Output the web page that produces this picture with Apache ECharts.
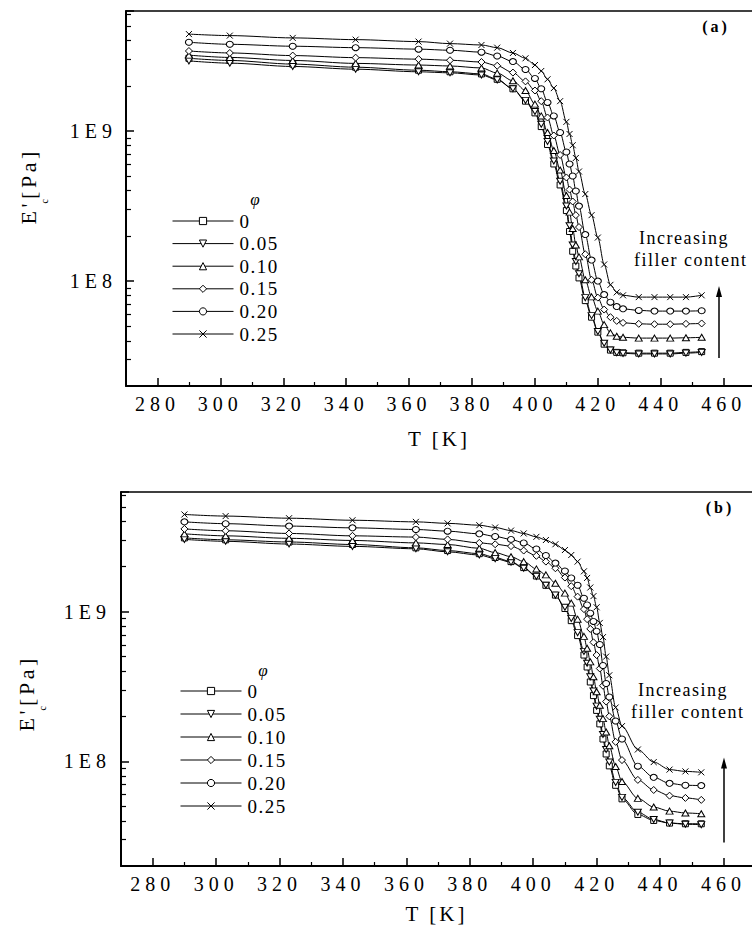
<!DOCTYPE html>
<html>
<head>
<meta charset="utf-8">
<script src="https://cdn.jsdelivr.net/npm/echarts@6/dist/echarts.min.js"></script>
<style>
html, body { margin: 0; padding: 0; background: #fff; }
#chart { width: 752px; height: 936px; }
text[style*="20px"] { letter-spacing: 5px; }
text[style*="21px"] { letter-spacing: 3px; }
text[style*="22px"] { letter-spacing: 3.5px; }
text[style*="19px"] { letter-spacing: 1.5px; }
text[style*="18px"] { letter-spacing: 1.5px; }
text[style*="16px"] { letter-spacing: 3px; }
</style>
</head>
<body>
<div id="chart"></div>
<script>
// ---------------- data ----------------
const phiLabels = ['0', '0.05', '0.10', '0.15', '0.20', '0.25'];

// panel (a): temperature [K]
const tempA = [290, 303, 323, 343, 363, 373, 383, 388, 393, 397, 400, 402, 404, 406, 408, 410, 411, 412, 413, 414, 416, 418, 420, 422, 424, 426, 428, 433, 438, 443, 448, 453];
// panel (a): E'c [Pa]
const A_000 = [3.05e9, 2.95e9, 2.79e9, 2.66e9, 2.54e9, 2.48e9, 2.40e9, 2.21e9, 1.91e9, 1.58e9, 1.32e9, 1.07e9, 8.13e8, 6.03e8, 4.37e8, 2.95e8, 2.14e8, 1.58e8, 1.26e8, 1.05e8, 7.41e7, 5.75e7, 4.57e7, 3.80e7, 3.47e7, 3.35e7, 3.33e7, 3.31e7, 3.31e7, 3.31e7, 3.35e7, 3.39e7];
const A_005 = [2.93e9, 2.83e9, 2.69e9, 2.58e9, 2.48e9, 2.44e9, 2.36e9, 2.19e9, 1.91e9, 1.60e9, 1.35e9, 1.11e9, 8.51e8, 6.31e8, 4.62e8, 3.16e8, 2.34e8, 1.74e8, 1.35e8, 1.12e8, 7.76e7, 5.89e7, 4.62e7, 3.85e7, 3.47e7, 3.33e7, 3.30e7, 3.27e7, 3.27e7, 3.27e7, 3.31e7, 3.35e7];
const A_010 = [3.20e9, 3.09e9, 2.95e9, 2.82e9, 2.75e9, 2.71e9, 2.63e9, 2.43e9, 2.16e9, 1.86e9, 1.51e9, 1.26e9, 9.77e8, 7.41e8, 5.50e8, 3.72e8, 2.88e8, 2.24e8, 1.74e8, 1.45e8, 1.02e8, 7.85e7, 6.31e7, 5.13e7, 4.52e7, 4.29e7, 4.22e7, 4.17e7, 4.17e7, 4.17e7, 4.19e7, 4.22e7];
const A_015 = [3.41e9, 3.31e9, 3.18e9, 3.08e9, 3.01e9, 2.96e9, 2.88e9, 2.72e9, 2.45e9, 2.14e9, 1.86e9, 1.58e9, 1.23e9, 9.33e8, 6.92e8, 4.90e8, 4.07e8, 3.39e8, 2.75e8, 2.29e8, 1.51e8, 1.02e8, 7.76e7, 6.46e7, 5.75e7, 5.43e7, 5.27e7, 5.19e7, 5.16e7, 5.16e7, 5.19e7, 5.22e7];
const A_020 = [3.90e9, 3.78e9, 3.67e9, 3.59e9, 3.51e9, 3.45e9, 3.35e9, 3.16e9, 2.90e9, 2.57e9, 2.24e9, 1.91e9, 1.55e9, 1.26e9, 9.77e8, 7.24e8, 6.03e8, 5.01e8, 3.98e8, 3.16e8, 2.04e8, 1.38e8, 1.00e8, 8.13e7, 7.24e7, 6.76e7, 6.53e7, 6.38e7, 6.31e7, 6.31e7, 6.31e7, 6.34e7];
const A_025 = [4.42e9, 4.32e9, 4.17e9, 4.06e9, 3.94e9, 3.82e9, 3.74e9, 3.59e9, 3.31e9, 3.05e9, 2.75e9, 2.51e9, 2.21e9, 1.93e9, 1.58e9, 1.15e9, 9.55e8, 8.04e8, 6.61e8, 5.37e8, 3.80e8, 2.75e8, 1.95e8, 1.29e8, 9.44e7, 8.41e7, 8.04e7, 7.82e7, 7.82e7, 7.82e7, 7.82e7, 8.04e7];

// panel (b): temperature [K]
const tempB = [290, 303, 323, 343, 363, 373, 383, 388, 393, 397, 401, 404, 407, 410, 412, 414, 416, 417, 418, 419, 420, 421, 422, 423, 424, 426, 428, 433, 438, 443, 448, 453];
// panel (b): E'c [Pa]
const B_000 = [3.11e9, 3.02e9, 2.92e9, 2.81e9, 2.67e9, 2.56e9, 2.44e9, 2.30e9, 2.16e9, 1.97e9, 1.73e9, 1.50e9, 1.29e9, 1.05e9, 8.71e8, 6.92e8, 5.13e8, 4.27e8, 3.39e8, 2.75e8, 2.19e8, 1.78e8, 1.41e8, 1.12e8, 9.33e7, 6.92e7, 5.62e7, 4.42e7, 4.03e7, 3.87e7, 3.83e7, 3.83e7];
const B_005 = [3.04e9, 2.95e9, 2.83e9, 2.73e9, 2.63e9, 2.51e9, 2.39e9, 2.26e9, 2.14e9, 1.95e9, 1.72e9, 1.50e9, 1.29e9, 1.07e9, 9.02e8, 7.24e8, 5.43e8, 4.52e8, 3.67e8, 2.95e8, 2.34e8, 1.91e8, 1.51e8, 1.20e8, 9.89e7, 7.24e7, 5.75e7, 4.57e7, 4.09e7, 3.87e7, 3.80e7, 3.78e7];
const B_010 = [3.31e9, 3.21e9, 3.09e9, 2.99e9, 2.88e9, 2.81e9, 2.65e9, 2.48e9, 2.33e9, 2.16e9, 1.93e9, 1.76e9, 1.55e9, 1.33e9, 1.14e9, 8.91e8, 6.84e8, 5.69e8, 4.62e8, 3.67e8, 2.92e8, 2.37e8, 1.93e8, 1.57e8, 1.27e8, 9.23e7, 7.33e7, 5.66e7, 4.95e7, 4.65e7, 4.52e7, 4.47e7];
const B_015 = [3.57e9, 3.47e9, 3.33e9, 3.21e9, 3.15e9, 3.04e9, 2.88e9, 2.82e9, 2.74e9, 2.56e9, 2.36e9, 2.16e9, 1.95e9, 1.69e9, 1.48e9, 1.26e9, 1.04e9, 8.91e8, 7.67e8, 6.24e8, 5.13e8, 4.17e8, 3.20e8, 2.51e8, 2.00e8, 1.35e8, 1.02e8, 7.52e7, 6.44e7, 5.90e7, 5.70e7, 5.53e7];
const B_020 = [3.98e9, 3.87e9, 3.73e9, 3.63e9, 3.54e9, 3.45e9, 3.31e9, 3.18e9, 3.04e9, 2.88e9, 2.62e9, 2.37e9, 2.11e9, 1.87e9, 1.68e9, 1.50e9, 1.23e9, 1.11e9, 9.77e8, 8.61e8, 7.41e8, 6.03e8, 4.37e8, 3.31e8, 2.69e8, 1.86e8, 1.41e8, 9.29e7, 7.82e7, 7.13e7, 6.92e7, 6.89e7];
const B_025 = [4.46e9, 4.35e9, 4.21e9, 4.08e9, 3.98e9, 3.89e9, 3.78e9, 3.65e9, 3.48e9, 3.33e9, 3.16e9, 3.01e9, 2.82e9, 2.58e9, 2.39e9, 2.16e9, 1.86e9, 1.68e9, 1.45e9, 1.27e9, 1.07e9, 8.41e8, 6.76e8, 5.01e8, 3.76e8, 2.29e8, 1.72e8, 1.20e8, 9.89e7, 8.81e7, 8.57e7, 8.45e7];

// axes ticks
const xMajorTicks = [280, 300, 320, 340, 360, 380, 400, 420, 440, 460];
const xMinorTicks = [290, 310, 330, 350, 370, 390, 410, 430, 450];
const yMinorTicks = [3e7, 4e7, 5e7, 6e7, 7e7, 8e7, 9e7, 2e8, 3e8, 4e8, 5e8, 6e8, 7e8, 8e8, 9e8, 2e9, 3e9, 4e9, 5e9, 6e9];

// annotation arrow [T, E'start, E'tip]
const arrowA = [458.5, 3.07e7, 9.27e7];
const arrowB = [460.2, 2.87e7, 1.06e8];

// ---------------- chart ----------------
const FONT = "'Liberation Serif', 'Times New Roman', serif";
const X_MIN = 270, X_MAX = 469, Y_MIN = 2e7, Y_MAX = 6.3e9;
const symbols = ['rect', 'path://M0,0L10,0L5,9Z', 'triangle', 'diamond', 'circle', 'path://M0,0L10,10M10,0L0,10'];
const symbolSizes = [6, [7, 6], [7, 6], [7, 7], [7, 6], 6];

function xAxesFor(gridIndex, nameGap) {
  return [
    {
      gridIndex, type: 'value', min: X_MIN, max: X_MAX, position: 'bottom',
      axisLine: { show: true, onZero: false, lineStyle: { color: '#000', width: 2 } },
      axisTick: { show: true, inside: true, length: 8, lineStyle: { color: '#000', width: 1.5 }, customValues: xMajorTicks },
      axisLabel: { show: true, customValues: xMajorTicks, margin: 8, color: '#000', fontFamily: FONT, fontSize: 20 },
      splitLine: { show: false },
      name: 'T [K]', nameLocation: 'middle', nameGap,
      nameTextStyle: { color: '#000', fontFamily: FONT, fontSize: 21 }
    },
    {
      gridIndex, type: 'value', min: X_MIN, max: X_MAX, position: 'bottom',
      axisLine: { show: false, onZero: false },
      axisTick: { show: true, inside: true, length: 4, lineStyle: { color: '#000', width: 1.2 }, customValues: xMinorTicks },
      axisLabel: { show: false }, splitLine: { show: false }
    },
    {
      gridIndex, type: 'value', min: X_MIN, max: X_MAX, position: 'top',
      axisLine: { show: true, onZero: false, lineStyle: { color: '#000', width: 1.5 } },
      axisTick: { show: false }, axisLabel: { show: false }, splitLine: { show: false }
    }
  ];
}

function yAxesFor(gridIndex, nameGap, namePad, labelMargin) {
  return [
    {
      gridIndex, type: 'log', logBase: 10, min: Y_MIN, max: Y_MAX, position: 'left',
      axisLine: { show: true, onZero: false, lineStyle: { color: '#000', width: 2 } },
      axisTick: { show: true, inside: true, length: 8, lineStyle: { color: '#000', width: 1.5 } },
      axisLabel: {
        margin: labelMargin, color: '#000', fontFamily: FONT, fontSize: 20,
        formatter: function (v) {
          const e = Math.log10(v);
          return Math.abs(e - Math.round(e)) < 1e-6 ? '1E' + Math.round(e) : '';
        }
      },
      splitLine: { show: false }, minorTick: { show: false },
      name: "{m|E'}{s|c}{m| [Pa]}", nameLocation: 'middle', nameRotate: 90, nameGap,
      nameTextStyle: {
        padding: namePad,
        rich: {
          m: { fontFamily: FONT, fontSize: 22, lineHeight: 24, verticalAlign: 'top', color: '#000' },
          s: { fontFamily: FONT, fontSize: 10, lineHeight: 10, padding: [22, 0, 0, 0], verticalAlign: 'top', color: '#000' }
        }
      }
    },
    {
      gridIndex, type: 'value', min: Math.log10(Y_MIN), max: Math.log10(Y_MAX), position: 'left',
      axisLine: { show: false, onZero: false },
      axisTick: { show: true, inside: true, length: 5, lineStyle: { color: '#000', width: 1.2 }, customValues: yMinorTicks.map(v => Math.log10(v)) },
      axisLabel: { show: false }, splitLine: { show: false }
    }
  ];
}

function seriesFor(xIdx, yIdx, temps, arrays) {
  return arrays.map((arr, k) => ({
    type: 'line', name: phiLabels[k], xAxisIndex: xIdx, yAxisIndex: yIdx,
    data: temps.map((t, i) => [t, arr[i]]),
    smooth: 0.3, smoothMonotone: 'x',
    symbol: symbols[k], symbolSize: symbolSizes[k], showAllSymbol: true,
    lineStyle: { color: '#000', width: 1 },
    itemStyle: { color: '#fff', borderColor: '#000', borderWidth: 1 },
    emphasis: { disabled: true }, silent: true
  }));
}

function legendFor(left, top, gap) {
  return {
    left, top, orient: 'vertical', padding: 0, itemWidth: 61, itemHeight: 9, itemGap: gap,
    data: phiLabels, selectedMode: false,
    itemStyle: { color: '#fff', borderColor: '#000', borderWidth: 1 },
    lineStyle: { color: '#000', width: 1 },
    textStyle: { fontFamily: FONT, fontSize: 19, color: '#000', padding: [0, 0, 0, 1] }
  };
}

function txt(x, y, text, size, extra) {
  return {
    type: 'text', x, y, silent: true,
    style: Object.assign({ text, fontFamily: FONT, fontSize: size, fill: '#000', align: 'left', verticalAlign: 'middle' }, extra || {})
  };
}

const chart = echarts.init(document.getElementById('chart'), null, { renderer: 'svg', width: 752, height: 936 });
chart.setOption({
  animation: false,
  backgroundColor: '#fff',
  grid: [
    { left: 126, top: 11, width: 626, height: 375 },
    { left: 121, top: 492, width: 631, height: 374 }
  ],
  xAxis: xAxesFor(0, 42).concat(xAxesFor(1, 37)),
  yAxis: yAxesFor(0, 85, [0, 0, 0, 19], 9).concat(yAxesFor(1, 82, [0, 34, 0, 0], 10)),
  legend: [legendFor(172, 211.5, 3.6), legendFor(180, 681.5, 4)],
  series: seriesFor(0, 0, tempA, [A_000, A_005, A_010, A_015, A_020, A_025])
    .concat(seriesFor(3, 2, tempB, [B_000, B_005, B_010, B_015, B_020, B_025])),
  graphic: [
    txt(255, 199, 'φ', 17, { fontStyle: 'italic', align: 'center' }),
    txt(263, 670, 'φ', 17, { fontStyle: 'italic', align: 'center' }),
    txt(716, 26, '(a)', 16, { fontWeight: 'bold', align: 'center' }),
    txt(720, 507, '(b)', 16, { fontWeight: 'bold', align: 'center' }),
    txt(639, 238, 'Increasing', 18),
    txt(634, 260, 'filler content', 18),
    txt(638, 690, 'Increasing', 18),
    txt(631, 712, 'filler content', 18)
  ]
});

// "Increasing filler content" arrows, placed through each panel's own scales
function arrowGraphic(seriesIndex, arrow) {
  const p0 = chart.convertToPixel({ seriesIndex }, [arrow[0], arrow[1]]);
  const p1 = chart.convertToPixel({ seriesIndex }, [arrow[0], arrow[2]]);
  const x = Math.round(p0[0]);
  return [
    { type: 'line', silent: true, shape: { x1: x, y1: p0[1], x2: x, y2: p1[1] + 8 }, style: { stroke: '#000', lineWidth: 1.5 } },
    { type: 'polygon', silent: true, shape: { points: [[x, p1[1]], [x - 3, p1[1] + 11], [x + 3, p1[1] + 11]] }, style: { fill: '#000' } }
  ];
}
const extra = arrowGraphic(5, arrowA).concat(arrowGraphic(11, arrowB));
chart.setOption({ graphic: extra.map((g, i) => Object.assign({ id: 'arrow' + i }, g)) });
</script>
</body>
</html>
